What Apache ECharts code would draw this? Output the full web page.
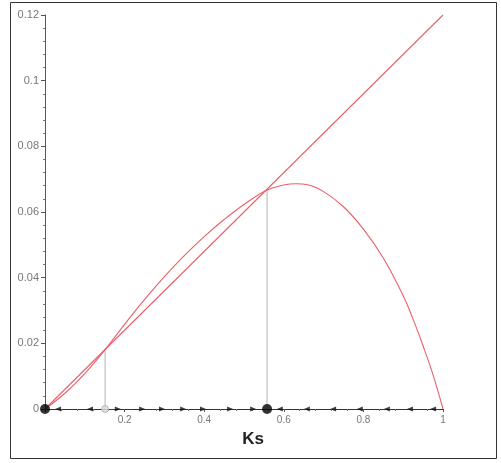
<!DOCTYPE html>
<html>
<head>
<meta charset="utf-8">
<script src="https://cdn.jsdelivr.net/npm/echarts@6/dist/echarts.min.js"></script>
<style>html,body{margin:0;padding:0;background:#fff;}#c{width:501px;height:463px;}</style>
</head>
<body>
<div id="c"></div>
<script>
// Curve f(Ks)
const curveX = [0, 0.05, 0.1, 0.151, 0.2, 0.25, 0.3, 0.35, 0.4, 0.45, 0.5, 0.558, 0.6, 0.63, 0.66, 0.7, 0.75, 0.8, 0.85, 0.9, 0.925, 0.95, 0.975, 1];
const curveY = [0, 0.0048, 0.0108, 0.0181, 0.0258, 0.0333, 0.0403, 0.0467, 0.0525, 0.0577, 0.0623, 0.0667, 0.0682, 0.0686, 0.0683, 0.0662, 0.0616, 0.0548, 0.0460, 0.0345, 0.0273, 0.0192, 0.0104, 0];
// Straight line
const lineX = [0, 1];
const lineY = [0, 0.12];
// Equilibria
const stableEq = [[0, 0], [0.558, 0]];
const unstableEq = [[0.151, 0]];
const eqDrops = [[0.151, 0.0181], [0.558, 0.0667]];
// Phase-line arrows
const leftArrows = [0.033, 0.113, 0.590, 0.658, 0.724, 0.791, 0.859, 0.917, 0.975];
const rightArrows = [0.183, 0.244, 0.294, 0.347, 0.397, 0.465, 0.523];
const xName = 'Ks';
const RED = '#ea5f68';

const chart = echarts.init(document.getElementById('c'), null, {renderer: 'canvas'});
const series = [
  {type: 'line', color: RED, data: lineX.map((x, i) => [x, lineY[i]]), showSymbol: false, itemStyle: {color: RED}, lineStyle: {color: RED, width: 1.1}, z: 3, silent: true},
  {type: 'line', color: RED, data: curveX.map((x, i) => [x, curveY[i]]), smooth: 0.4, showSymbol: false, itemStyle: {color: RED}, lineStyle: {color: RED, width: 1.1}, z: 3, silent: true}
];
eqDrops.forEach(p => {
  series.push({type: 'line', color: '#b4b4b4', data: [[p[0], 0], p], showSymbol: false, lineStyle: {color: '#b4b4b4', width: 1}, z: 2, silent: true});
});
series.push({type: 'scatter', data: leftArrows.map(x => [x, 0]), symbol: 'triangle', symbolRotate: 90, symbolSize: [5, 6], itemStyle: {color: '#111'}, z: 5, silent: true});
series.push({type: 'scatter', data: rightArrows.map(x => [x, 0]), symbol: 'triangle', symbolRotate: -90, symbolSize: [5, 6], itemStyle: {color: '#111'}, z: 5, silent: true});
series.push({type: 'scatter', data: unstableEq, symbol: 'circle', symbolSize: 7, itemStyle: {color: '#dddddd', borderColor: '#aaaaaa', borderWidth: 1}, z: 6, silent: true});
series.push({type: 'scatter', data: stableEq, symbol: 'circle', symbolSize: 10, itemStyle: {color: '#000'}, z: 6, silent: true});

chart.setOption({
  animation: false,
  backgroundColor: '#fff',
  grid: {left: 45, right: 58, top: 15, bottom: 54},
  xAxis: {
    type: 'value', min: 0, max: 1, interval: 0.2,
    name: xName, nameLocation: 'middle', nameGap: 22,
    nameTextStyle: {fontSize: 17, fontWeight: 'bold', color: '#222', fontFamily: 'Liberation Sans', padding: [0, 0, 0, 18]},
    axisLine: {lineStyle: {color: '#333', width: 1}},
    axisTick: {show: true, length: 3, inside: false, lineStyle: {color: '#555'}},
    minorTick: {show: true, splitNumber: 5, length: 2, lineStyle: {color: '#777'}},
    axisLabel: {color: '#777', fontSize: 10, fontFamily: 'Liberation Sans', margin: 6, formatter: v => v === 0 ? '' : String(v)},
    splitLine: {show: false}
  },
  yAxis: {
    type: 'value', min: 0, max: 0.12, interval: 0.02,
    axisLine: {lineStyle: {color: '#555', width: 1}},
    axisTick: {show: true, length: 4, lineStyle: {color: '#555'}},
    minorTick: {show: true, splitNumber: 5, length: 2, lineStyle: {color: '#777'}},
    axisLabel: {color: '#777', fontSize: 11, fontFamily: 'Liberation Sans', margin: 6, formatter: v => String(+v.toFixed(2))},
    splitLine: {show: false}
  },
  graphic: [{type: 'rect', shape: {x: 10.5, y: 2.5, width: 486, height: 456}, style: {fill: null, stroke: '#333', lineWidth: 1}, silent: true, z: 0}],
  series: series
});
</script>
</body>
</html>
